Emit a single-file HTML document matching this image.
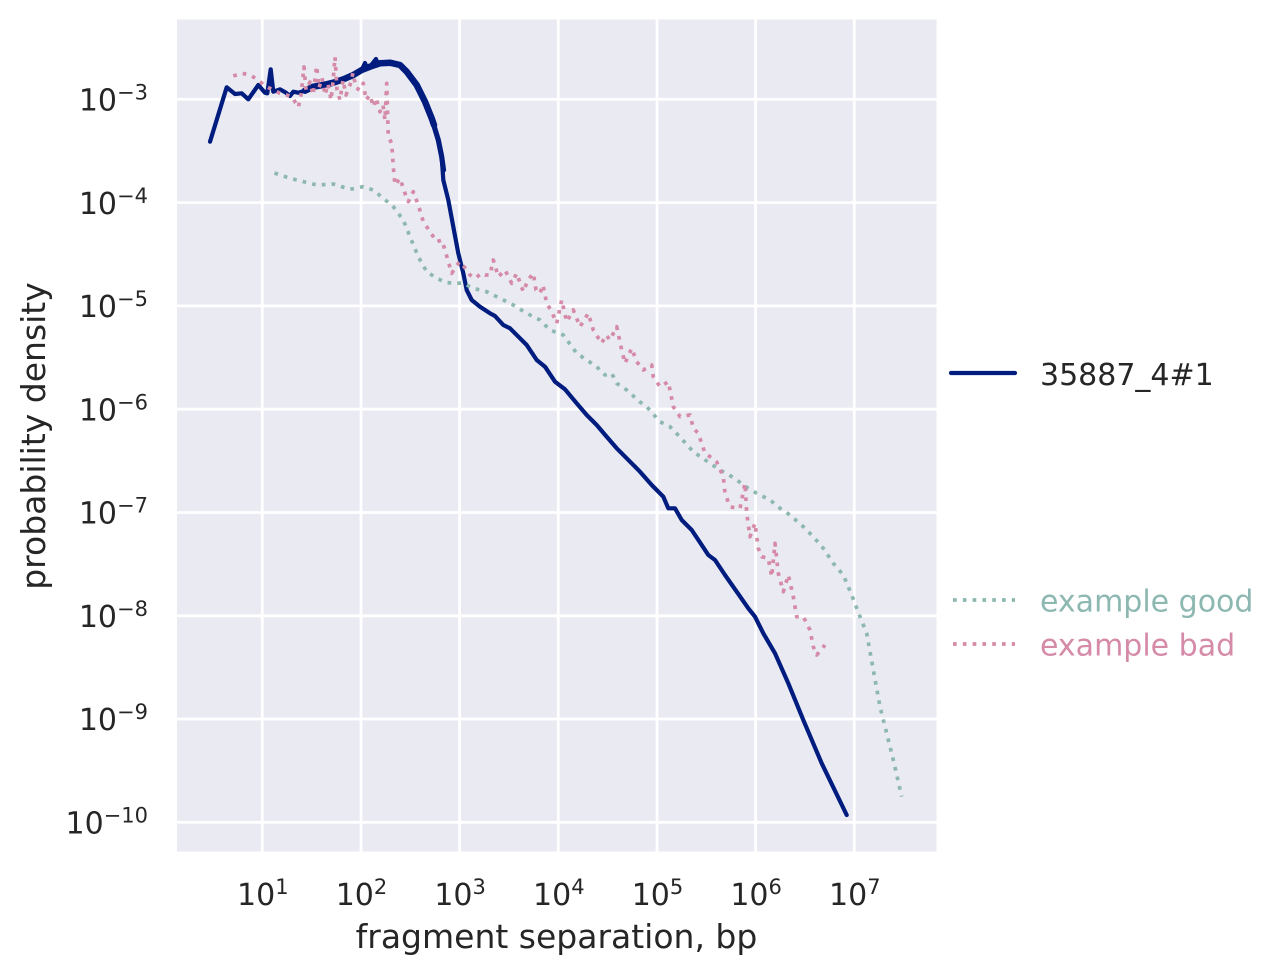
<!DOCTYPE html>
<html>
<head>
<meta charset="utf-8">
<style>
  html, body { margin: 0; padding: 0; background: #ffffff; }
  svg { display: block; }
  text { font-family: "DejaVu Sans", "Liberation Sans", sans-serif; fill: #262626; }
</style>
</head>
<body>
<svg width="1283" height="976" viewBox="0 0 1283 976" xmlns="http://www.w3.org/2000/svg">
  <rect x="0" y="0" width="1283" height="976" fill="#ffffff"/>
  <!-- axes background -->
  <rect x="177" y="19.5" width="759.5" height="832" fill="#eaeaf2"/>
  <!-- grid -->
  <g stroke="#ffffff" stroke-width="2.8">
    <line x1="262.3" y1="19.5" x2="262.3" y2="851.5"/>
    <line x1="361.0" y1="19.5" x2="361.0" y2="851.5"/>
    <line x1="459.6" y1="19.5" x2="459.6" y2="851.5"/>
    <line x1="558.3" y1="19.5" x2="558.3" y2="851.5"/>
    <line x1="657.0" y1="19.5" x2="657.0" y2="851.5"/>
    <line x1="755.6" y1="19.5" x2="755.6" y2="851.5"/>
    <line x1="854.3" y1="19.5" x2="854.3" y2="851.5"/>
    <line x1="177" y1="99.3" x2="936.5" y2="99.3"/>
    <line x1="177" y1="202.6" x2="936.5" y2="202.6"/>
    <line x1="177" y1="305.9" x2="936.5" y2="305.9"/>
    <line x1="177" y1="409.2" x2="936.5" y2="409.2"/>
    <line x1="177" y1="512.5" x2="936.5" y2="512.5"/>
    <line x1="177" y1="615.8" x2="936.5" y2="615.8"/>
    <line x1="177" y1="719.0" x2="936.5" y2="719.0"/>
    <line x1="177" y1="822.3" x2="936.5" y2="822.3"/>
  </g>

  <!-- blue series -->
  <g fill="none" stroke="#001c7f" stroke-linejoin="round" stroke-linecap="round">
    <polyline stroke-width="4.2" points="210,141.7 226.7,87.3 235,94 241.7,93.3 248.3,99.3 258.3,85 265,92.7 267.3,93.3 270.7,69.3 273.3,91.7 280,89.3 286,92.7 290,96 293.3,91.7 298.3,92.7 305,90.7 313.3,86.7 323.3,85 333.3,82.7 343.3,79.3 353.3,75 361.7,70 365,63 367,68 370,66.7 376,59 378,64 380,63.3 390,62.7 400,65 406.7,71.7 416.7,85 425,101.7 431.7,118.3 438.3,140 441.7,156.7 443.3,180 448.3,200 453.3,226.7 458.3,253.3 463.3,273.3 466.7,290 471.7,300 480,306.7 490,313.3 495,316 503.3,325 510,328.3 520,338.3 526.7,345 536.7,360 545,366.7 555,381.7 565,389.3 576.7,403.3 586.7,415 596.7,425 606.7,436.7 616.7,448.3 626.7,458.3 640,471.7 651.7,485 663.3,496.7 668.3,508.3 675,508.3 681.7,520 691.7,530 701.7,545 708.3,555 715,560 725,575 736.7,591.7 748.3,608.3 755,616.7 763.3,633.3 775,653.3 788.3,683.3 803.3,720 821.7,763.3 846.7,815"/>
    <polyline stroke-width="6.5" points="305,90.7 313.3,86.7 323.3,85 333.3,82.7 343.3,79.3 353.3,75 361.7,70 370,66.7 380,63.3 390,62.7 400,65 406.7,71.7 416.7,85 425,101.7 431.7,118.3 434,125"/>
    <polyline stroke-width="5.2" points="425,101.7 431.7,118.3 438.3,140 441.7,156.7 443.5,170"/>
  </g>

  <!-- green dotted series -->
  <polyline fill="none" stroke="#8db8b1" stroke-width="3.7" stroke-dasharray="3.7 6.1" stroke-linecap="butt" stroke-linejoin="round"
    points="274.5,173 290,178.3 316.7,185 333.3,184 350,189.3 363.3,186.7 373.3,190 383.3,198.3 393.3,206.7 403.3,220 410,236.7 418.3,256.7 426.7,271.7 436.7,278.3 446.7,282.7 463.3,283.3 473.3,288.3 486.7,291.7 500,298.3 513.3,305 526.7,313.3 540,320 550,330 563.3,335 576.7,353.3 586.7,360 596.7,366.7 605,375 611.7,373.3 616.7,383.3 626.7,390 640,402 646.7,406.7 660,421.7 670,426.7 680,437 693.3,451.7 706.7,461 720,470 733.3,477.5 746.7,487.3 756.7,493.3 770,500 780,508.3 790,515 803.3,526.7 813.3,536.7 823.3,548.3 833.3,563.3 843.3,575 851.7,595 860,616.7 866.7,633.3 873.3,670 880,706.7 886.7,733.3 893.3,760 901.7,796.7"/>

  <!-- pink dotted series -->
  <polyline fill="none" stroke="#d58aa7" stroke-width="3.7" stroke-dasharray="3.7 6.1" stroke-linecap="butt" stroke-linejoin="round"
    points="233.3,76 241.7,73.3 250,75 258.3,80 265,86 273.3,90 280,93.3 286.7,95 292,97 298.3,107.3 301,95 304,67 306,90 310,82 313,95 316.7,66 319,88 322,78 325,95 328,84 331,100 333,82 335,57 337,90 340,100 343,80 346,95 350,85 353,73 356,88 360,90 363.3,83.3 366,100 370,95 373.3,106.7 376,98 380,111.7 383,105 385,120 386.7,83.3 388.3,136.7 391.7,143.3 393.3,166.7 395,185 400,178.3 405,193.3 408.3,201.7 413.3,191.7 418.3,205 423.3,221.7 430,231.7 436.7,241.7 441.7,240 445,250 448.3,261.7 451.7,273.3 458.3,263.3 460,261.7 466.7,270 470,275 475,278.3 481.7,273.3 485,275 490,275 493.3,260 498.3,276.7 505,270 511.7,283.3 516.7,273.3 523.3,291.7 528,280 533.3,273.3 536,290 540,293.3 543,285 546.7,303.3 551.7,311.7 556.7,323.3 561.7,300 566.7,321.7 573.3,310 580,326.7 588.3,313.3 593.3,330 601.7,343.3 606,335 610,340 616.7,326.7 621.7,350 625,363.3 631.7,348.3 636.7,361.7 643.3,370 651.7,365 653.3,376.7 660,386.7 668.3,381.7 673.3,406.7 680,416.7 690,415 693.3,428.3 698.3,433.3 705,453.3 710,456.7 716.7,462 723.3,476.7 725,493.3 730,506.7 736.7,508.3 740,508.3 745,483.3 746.7,513.3 750,536.7 755,523.3 758.3,548.3 761.7,556.7 768.3,558.3 771.7,576.7 775,543.3 778.3,573.3 783.3,591.7 788.3,575 793.3,596.7 796.7,616.7 803.3,616.7 810,630 813.3,646.7 816.7,655 825,645"/>

  <!-- y tick labels -->
  <g font-size="30" text-anchor="end">
    <text x="148" y="110.5">10<tspan font-size="21" dy="-11">−3</tspan></text>
    <text x="148" y="213.8">10<tspan font-size="21" dy="-11">−4</tspan></text>
    <text x="148" y="317.1">10<tspan font-size="21" dy="-11">−5</tspan></text>
    <text x="148" y="420.4">10<tspan font-size="21" dy="-11">−6</tspan></text>
    <text x="148" y="523.7">10<tspan font-size="21" dy="-11">−7</tspan></text>
    <text x="148" y="627.0">10<tspan font-size="21" dy="-11">−8</tspan></text>
    <text x="148" y="730.2">10<tspan font-size="21" dy="-11">−9</tspan></text>
    <text x="148" y="833.5">10<tspan font-size="21" dy="-11">−10</tspan></text>
  </g>

  <!-- x tick labels -->
  <g font-size="30" text-anchor="middle">
    <text x="262.8" y="905">10<tspan font-size="21" dy="-11">1</tspan></text>
    <text x="361.5" y="905">10<tspan font-size="21" dy="-11">2</tspan></text>
    <text x="460.1" y="905">10<tspan font-size="21" dy="-11">3</tspan></text>
    <text x="558.8" y="905">10<tspan font-size="21" dy="-11">4</tspan></text>
    <text x="657.5" y="905">10<tspan font-size="21" dy="-11">5</tspan></text>
    <text x="756.1" y="905">10<tspan font-size="21" dy="-11">6</tspan></text>
    <text x="854.8" y="905">10<tspan font-size="21" dy="-11">7</tspan></text>
  </g>

  <!-- axis labels -->
  <text x="556.5" y="948" font-size="33" text-anchor="middle">fragment separation, bp</text>
  <text transform="translate(45,436) rotate(-90)" font-size="33" text-anchor="middle">probability density</text>

  <!-- legend -->
  <line x1="951" y1="373" x2="1015" y2="373" stroke="#001c7f" stroke-width="4.2" stroke-linecap="round"/>
  <text x="1040" y="385" font-size="30">35887_4#1</text>

  <line x1="953" y1="600" x2="1015" y2="600" stroke="#8db8b1" stroke-width="3.7" stroke-dasharray="3.7 6.1"/>
  <text x="1040" y="611.5" font-size="30" style="fill:#8db8b1">example good</text>

  <line x1="953" y1="644" x2="1015" y2="644" stroke="#d58aa7" stroke-width="3.7" stroke-dasharray="3.7 6.1"/>
  <text x="1040" y="655.5" font-size="30" style="fill:#d58aa7">example bad</text>
</svg>
</body>
</html>
